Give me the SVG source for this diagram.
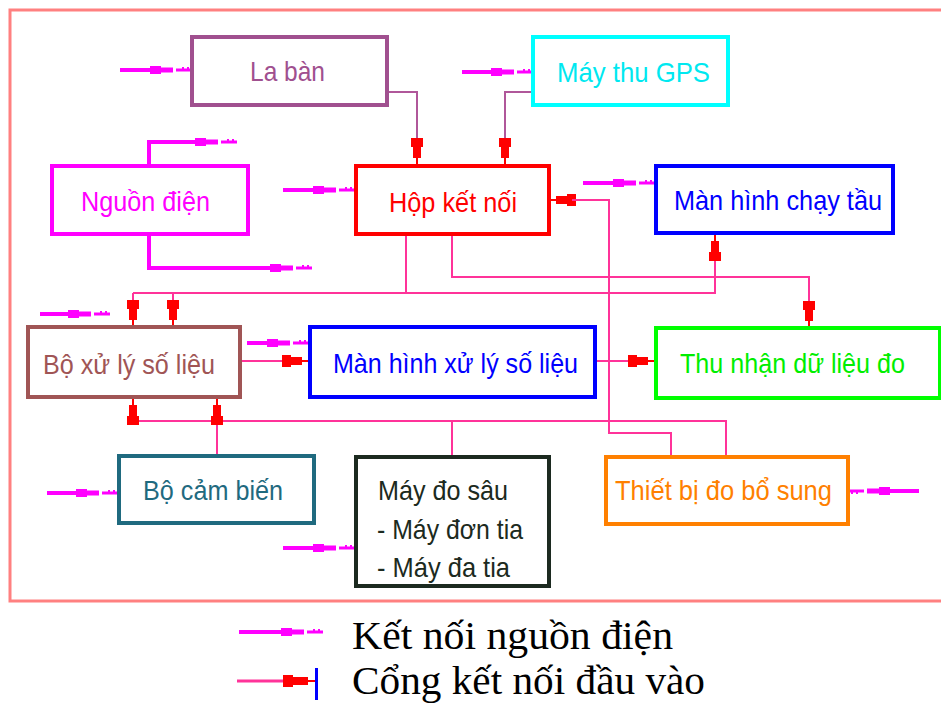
<svg xmlns="http://www.w3.org/2000/svg" xmlns:xlink="http://www.w3.org/1999/xlink" width="941" height="704" viewBox="0 0 941 704">
<style>
.box{fill:#fff;stroke-width:4}
.lbl{font-family:"Liberation Sans",Arial,sans-serif;font-size:28px}
.wire{fill:none;stroke:#ff3399;stroke-width:2}
.wire2{fill:none;stroke:#b0579a;stroke-width:2}
.pwl{fill:none;stroke:#ff00ff;stroke-width:4}
.leg{font-family:"Liberation Serif","Times New Roman",serif;font-size:39px;fill:#000}
</style>
<defs>
<g id="pw">
<rect x="-42" y="-4" width="11" height="8" fill="#ff00ff"/>
<rect x="-31" y="-2.5" width="12" height="5" fill="#ff00ff"/>
<rect x="-16" y="-1.5" width="16" height="3" fill="#ff00ff"/>
<rect x="-10" y="-3" width="2" height="2" fill="#ff00ff"/>
<rect x="-5" y="-3" width="2" height="2" fill="#ff00ff"/>
</g>
<g id="in">
<rect x="-27" y="-6" width="9" height="12" fill="#ff0000"/>
<rect x="-18" y="-4" width="11" height="8" fill="#ff0000"/>
<rect x="-7" y="-1" width="7" height="2" fill="#ff0000"/>
</g>
</defs>
<rect width="941" height="704" fill="#fff"/>
<rect id="frame" x="10" y="10" width="950" height="591" fill="none" stroke="#ff8080" stroke-width="3"/>

<g id="connectors">
<path class="wire2" d="M387,92 H417 V140"/>
<path class="wire2" d="M533,92 H505 V140"/>
<use xlink:href="#in" transform="translate(417,165) rotate(90)"/>
<use xlink:href="#in" transform="translate(505,165) rotate(90)"/>
<use xlink:href="#in" transform="translate(549,200) rotate(180)"/>
<path class="wire" d="M572,200 H609 V433 H671 V456"/>
<path class="wire" d="M406,234 V293"/>
<path class="wire" d="M133,293 H715 V255"/>
<path class="wire" d="M133,293 V302 M173,293 V302"/>
<use xlink:href="#in" transform="translate(133,327) rotate(90)"/>
<use xlink:href="#in" transform="translate(173,327) rotate(90)"/>
<use xlink:href="#in" transform="translate(715,234) rotate(-90)"/>
<path class="wire" d="M452,234 V277 H809 V305"/>
<use xlink:href="#in" transform="translate(809,328) rotate(90)"/>
<path class="wire" d="M240,361 H285"/>
<use xlink:href="#in" transform="translate(309,361)"/>
<path class="wire" d="M595,361 H632"/>
<use xlink:href="#in" transform="translate(655,361)"/>
<path class="wire" d="M133,421 H726 V456"/>
<use xlink:href="#in" transform="translate(133,398) rotate(-90)"/>
<path class="wire" d="M217,455 V420"/>
<use xlink:href="#in" transform="translate(217,398) rotate(-90)"/>
<path class="wire" d="M452,421 V456"/>

<path class="pwl" d="M120,70 H151"/>
<use xlink:href="#pw" transform="translate(192,70)"/>
<path class="pwl" d="M462,72 H492"/>
<use xlink:href="#pw" transform="translate(533,72)"/>
<path class="pwl" d="M283,190 H314"/>
<use xlink:href="#pw" transform="translate(355,190)"/>
<path class="pwl" d="M149,166 V142 H196"/>
<use xlink:href="#pw" transform="translate(237,142)"/>
<path class="pwl" d="M149,234 V268 H271"/>
<use xlink:href="#pw" transform="translate(312,268)"/>
<path class="pwl" d="M583,183 H614"/>
<use xlink:href="#pw" transform="translate(655,183)"/>
<path class="pwl" d="M40,314 H70"/>
<use xlink:href="#pw" transform="translate(110,314)"/>
<path class="pwl" d="M247,343 H268"/>
<use xlink:href="#pw" transform="translate(309,343)"/>
<path class="pwl" d="M47,493 H77"/>
<use xlink:href="#pw" transform="translate(118,493)"/>
<path class="pwl" d="M283,548 H314"/>
<use xlink:href="#pw" transform="translate(355,548)"/>
<path class="pwl" d="M919,491 H888"/>
<use xlink:href="#pw" transform="translate(848,491) rotate(180)"/>
</g>

<g id="n-laban"><rect class="box" x="192" y="37" width="195" height="68" stroke="#a0508f"/><text class="lbl" x="250" y="81" fill="#a0508f" textLength="75" lengthAdjust="spacingAndGlyphs">La bàn</text></g>
<g id="n-gps"><rect class="box" x="533" y="37" width="195" height="68" stroke="#00ffff"/><text class="lbl" x="557" y="82" fill="#00e8f0" textLength="153" lengthAdjust="spacingAndGlyphs">Máy thu GPS</text></g>
<g id="n-nguon"><rect class="box" x="52" y="166" width="196" height="68" stroke="#ff00ff"/><text class="lbl" x="81" y="211" fill="#ff00ff" textLength="129" lengthAdjust="spacingAndGlyphs">Nguồn điện</text></g>
<g id="n-hop"><rect class="box" x="356" y="166" width="193" height="68" stroke="#ff0000"/><text class="lbl" x="389" y="212" fill="#ff0000" textLength="128" lengthAdjust="spacingAndGlyphs">Hộp kết nối</text></g>
<g id="n-mhct"><rect class="box" x="656" y="166" width="237" height="67" stroke="#0000ff"/><text class="lbl" x="674" y="210" fill="#0000ff" textLength="208" lengthAdjust="spacingAndGlyphs">Màn hình chạy tầu</text></g>
<g id="n-bxl"><rect class="box" x="28" y="327" width="212" height="70" stroke="#a05555"/><text class="lbl" x="43" y="374" fill="#a05555" textLength="172" lengthAdjust="spacingAndGlyphs">Bộ xử lý số liệu</text></g>
<g id="n-mhxl"><rect class="box" x="310" y="327" width="285" height="70" stroke="#0000ff"/><text class="lbl" x="333" y="373" fill="#0000ff" textLength="245" lengthAdjust="spacingAndGlyphs">Màn hình xử lý số liệu</text></g>
<g id="n-thunhan"><rect class="box" x="656" y="328" width="284" height="70" stroke="#00ff00"/><text class="lbl" x="680" y="373" fill="#00ee00" textLength="225" lengthAdjust="spacingAndGlyphs">Thu nhận dữ liệu đo</text></g>
<g id="n-cambien"><rect class="box" x="119" y="456" width="195" height="67" stroke="#1f6a7f"/><text class="lbl" x="143" y="500" fill="#1f6a7f" textLength="140" lengthAdjust="spacingAndGlyphs">Bộ cảm biến</text></g>
<g id="n-maydosau"><rect class="box" x="356" y="457" width="193" height="129" stroke="#1c2a20"/>
<text class="lbl" x="378" y="500" fill="#1c2a20" textLength="130" lengthAdjust="spacingAndGlyphs">Máy đo sâu</text>
<text class="lbl" x="377" y="539" fill="#1c2a20" textLength="146" lengthAdjust="spacingAndGlyphs">- Máy đơn tia</text>
<text class="lbl" x="377" y="577" fill="#1c2a20" textLength="133" lengthAdjust="spacingAndGlyphs">- Máy đa tia</text></g>
<g id="n-thietbi"><rect class="box" x="606" y="457" width="242" height="67" stroke="#ff8000"/><text class="lbl" x="615" y="500" fill="#ff8000" textLength="217" lengthAdjust="spacingAndGlyphs">Thiết bị đo bổ sung</text></g>

<g id="legend">
<path class="pwl" d="M239,632 H281"/>
<use xlink:href="#pw" transform="translate(323,632)"/>
<text class="leg" x="352" y="649" textLength="321" lengthAdjust="spacingAndGlyphs">Kết nối nguồn điện</text>
<path fill="none" stroke="#ff3399" stroke-width="3" d="M237,681 H285"/>
<rect x="283" y="675" width="10" height="12" fill="#ff0000"/>
<rect x="293" y="677" width="15" height="8" fill="#ff0000"/>
<rect x="308" y="680" width="8" height="2" fill="#ff0000"/>
<rect x="315" y="668" width="3" height="32" fill="#0000ff"/>
<text class="leg" x="352" y="694" textLength="353" lengthAdjust="spacingAndGlyphs">Cổng kết nối đầu vào</text>
</g>
</svg>
